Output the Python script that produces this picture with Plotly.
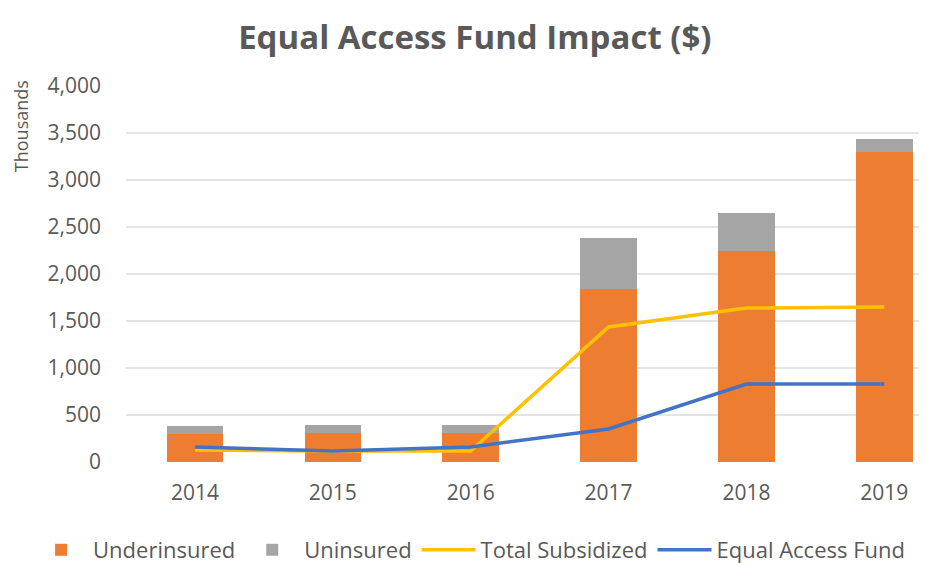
import plotly.graph_objects as go

# values in thousands of dollars
years = ["2014", "2015", "2016", "2017", "2018", "2019"]
underinsured = [300, 308, 308, 1840, 2245, 3298]
uninsured = [83, 86, 86, 543, 404, 138]
total_subsidized = [128, 117, 117, 1436, 1638, 1649]
equal_access_fund = [160, 117, 160, 351, 830, 830]

grey_text = "#595959"
font_family = "Open Sans, Lato, sans-serif"

fig = go.Figure()

fig.add_trace(go.Bar(
    x=years, y=underinsured, name="Underinsured",
    marker=dict(color="#ED7D31", line=dict(width=0)),
))
fig.add_trace(go.Bar(
    x=years, y=uninsured, name="Uninsured",
    marker=dict(color="#A5A5A5", line=dict(width=0)),
))
fig.add_trace(go.Scatter(
    x=years, y=total_subsidized, name="Total Subsidized",
    mode="lines", line=dict(color="#FFC000", width=3.5),
))
fig.add_trace(go.Scatter(
    x=years, y=equal_access_fund, name="Equal Access Fund",
    mode="lines", line=dict(color="#4472C4", width=3.5),
))

# the page body adds an 8px margin, so the figure is offset by 8px
fig.update_layout(
    width=919, height=563,
    barmode="stack",
    bargap=0.59,
    plot_bgcolor="white",
    paper_bgcolor="white",
    margin=dict(l=118, r=0, t=78, b=109),
    font=dict(family=font_family, color=grey_text, size=21),
    title=dict(
        text="<b>Equal Access Fund Impact ($)</b>",
        x=0.508, xanchor="center", y=0.9485, yanchor="middle",
        font=dict(size=33, color=grey_text, family=font_family),
    ),
    xaxis=dict(
        type="category",
        range=[-0.5, 5.31],
        showgrid=False,
        showline=False,
        zeroline=False,
        ticks="",
        ticklabelstandoff=16,
        tickfont=dict(size=21, color=grey_text),
    ),
    yaxis=dict(
        range=[0, 4000],
        dtick=500,
        tickformat=",d",
        showgrid=True,
        gridcolor="#E4E4E4",
        gridwidth=1.5,
        zeroline=False,
        showline=False,
        ticks="",
        ticklabelstandoff=24,
        tickfont=dict(size=21, color=grey_text),
    ),
    legend=dict(
        orientation="h",
        x=-0.121, xanchor="left",
        y=-0.234, yanchor="middle",
        font=dict(size=22, color=grey_text),
        itemwidth=54,
        traceorder="normal",
        tracegroupgap=0,
    ),
    annotations=[dict(
        text="Thousands", textangle=-90,
        xref="paper", yref="paper",
        x=-0.131, xanchor="center",
        y=1.021, yanchor="top",
        showarrow=False,
        font=dict(size=18, color=grey_text),
    )],
)

fig.write_html("out.html")
